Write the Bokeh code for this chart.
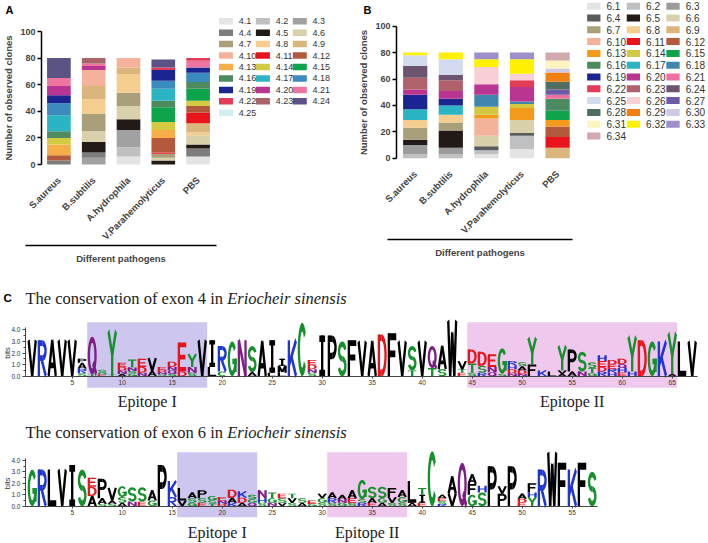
import math
import numpy as np
from bokeh.plotting import figure
from bokeh.models import ColumnDataSource, Range1d, LinearAxis, FixedTicker, NumeralTickFormatter
from bokeh.layouts import column, row
from bokeh.embed import file_html
from bokeh.resources import INLINE
from bokeh.core.properties import value

# ------------------------------------------------------------------ data
PATHOGENS = ["S.aureus", "B.subtilis", "A.hydrophila", "V.Parahemolyticus", "PBS"]
X_TITLE = "Different pathogens"
Y_TITLE = "Number of observed clones"
Y_TICKS = [0, 20, 40, 60, 80, 100]

EXON4_TYPES = ["4.1", "4.2", "4.3", "4.4", "4.5", "4.6", "4.7", "4.8", "4.9", "4.10",
               "4.11", "4.12", "4.13", "4.14", "4.15", "4.16", "4.17", "4.18", "4.19",
               "4.20", "4.21", "4.22", "4.23", "4.24", "4.25"]
EXON4_COLORS = ["#e4e4e4", "#bfc0c2", "#a1a1a1", "#7d7d7d", "#221a17", "#d9d1ab", "#a99f7b",
                "#f5cd8f", "#dab57c", "#f5b29b", "#e8131b", "#b35a3d", "#f7ae48", "#d3cc42",
                "#0ea44b", "#4e8a5f", "#2bb4c3", "#3b8bbf", "#1b2591", "#ba3491", "#ee75a0",
                "#e23c56", "#a8636b", "#5b5286", "#d4edf0"]
# clone counts per type (4.1 ... 4.25)
SAUREUS_4 = [0, 0, 0, 3, 0, 0, 0, 0, 0, 0, 0, 4, 8, 5, 0, 5, 12, 9, 6, 7, 6, 0, 0, 15, 0]
BSUBTILIS_4 = [0, 0, 5, 4, 8, 8, 13, 11, 10, 12, 0, 0, 0, 0, 0, 0, 0, 0, 0, 3, 2, 0, 4, 0, 0]
AHYDROPHILA_4 = [6, 7, 13, 0, 8, 10, 10, 14, 5, 7, 0, 0, 0, 0, 0, 0, 0, 0, 0, 0, 0, 0, 0, 0, 0]
VPARA_4 = [0, 0, 0, 0, 3, 2, 3, 0, 0, 0, 1, 11, 6, 6, 11, 5, 9, 6, 8, 0, 0, 2, 0, 6, 0]
PBS_4 = [6, 0, 0, 6, 3, 7, 0, 2, 7, 0, 8, 5, 0, 4, 9, 5, 0, 7, 4, 0, 5, 2, 0, 0, 0]

EXON6_TYPES = ["6.1", "6.2", "6.3", "6.4", "6.5", "6.6", "6.7", "6.8", "6.9", "6.10",
               "6.11", "6.12", "6.13", "6.14", "6.15", "6.16", "6.17", "6.18", "6.19",
               "6.20", "6.21", "6.22", "6.23", "6.24", "6.25", "6.26", "6.27", "6.28",
               "6.29", "6.30", "6.31", "6.32", "6.33", "6.34"]
EXON6_COLORS = ["#e4e4e4", "#bfc0c2", "#9b9b9b", "#5b5b5b", "#221a17", "#d9d1ab", "#a99f7b",
                "#f5cd8f", "#dab57c", "#f5b29b", "#e8131b", "#b35a3d", "#f39a1b", "#d4c742",
                "#0ea44b", "#4c8a5f", "#2bb4c3", "#3f87ad", "#1b2591", "#ba3491", "#ee70a0",
                "#e23c56", "#b0616b", "#6d5570", "#d3dcee", "#f9cfd6", "#6b5ba9", "#4f6e5f",
                "#f08012", "#cfc8e6", "#fdf5bf", "#fff100", "#9c8fca", "#d0a9ad"]
SAUREUS_6 = [0, 3, 7, 0, 4, 0, 9, 6, 0, 0, 0, 0, 0, 0, 0, 0, 8, 0, 11, 4,
             0, 0, 9, 9, 8, 0, 0, 0, 0, 0, 0, 2, 0, 0]
BSUBTILIS_6 = [0, 3, 5, 0, 13, 0, 6, 6, 0, 0, 0, 0, 0, 0, 0, 0, 7, 0, 5, 6,
               0, 0, 8, 4, 12, 0, 0, 0, 0, 0, 0, 5, 0, 0]
AHYDROPHILA_6 = [3, 3, 0, 3, 0, 8, 0, 0, 0, 13, 0, 0, 3, 6, 0, 0, 0, 9, 0, 8,
                 0, 0, 0, 0, 0, 13, 0, 0, 0, 0, 0, 6, 5, 0]
VPARA_6 = [7, 10, 0, 2, 0, 10, 0, 0, 0, 0, 0, 0, 9, 3, 0, 0, 0, 2, 0, 11,
           0, 5, 0, 0, 0, 5, 0, 0, 0, 0, 0, 11, 5, 0]
PBS_6 = [0, 0, 0, 0, 0, 0, 0, 0, 8, 0, 8, 8, 5, 0, 7, 9, 0, 0, 0, 0,
         3, 0, 0, 0, 0, 0, 4, 6, 7, 3, 6, 0, 0, 6]

# sequence logos: letters per position (bottom -> top) and their heights in bits
EXON4_LETTERS = ["V", "R", "A", "V", "V", "SRAP", "TQ", "EGS", "TY", "ANDE",
                 "GSNT", "NDE", "AV", "SNDE", "SQND", "DE", "SNY", "V", "LI", "CR",
                 "G", "N", "AS", "A", "LI", "LMI", "K", "C", "SNDE", "I",
                 "P", "S", "F", "V", "A", "D", "F", "V", "TS", "V",
                 "TQ", "SA", "W", "ETV", "STD", "RSD", "QNE", "SG", "NDHR", "NDAS",
                 "FY", "K", "L", "AVY", "AP", "NS", "GTS", "RDEH", "HRED", "EHQD",
                 "HY", "D", "G", "K", "AY", "L", "V"]
EXON4_BITS = [[3.1], [3.1], [3.1], [3.1], [3.1], [0.25, 0.4, 0.5, 0.35], [0.15, 3.25],
              [0.15, 0.15, 0.25], [0.2, 3.7], [0.2, 0.3, 0.3, 0.35],
              [0.2, 0.25, 0.3, 0.7], [0.3, 0.5, 0.7], [0.45, 1.1], [0.15, 0.2, 0.2, 0.25],
              [0.2, 0.3, 0.3, 0.45], [0.4, 2.5], [0.3, 0.5, 1.1], [3.1], [0.8, 2.3], [0.4, 2.2],
              [3.0], [3.1], [0.35, 2.25], [3.0], [0.3, 2.8], [0.3, 0.6, 0.6], [3.1], [4.6],
              [0.3, 0.3, 0.4, 0.4], [3.5],
              [3.5], [3.0], [3.1], [3.0], [3.0], [3.6], [3.7], [3.0], [0.5, 2.1], [3.0],
              [0.7, 1.9], [0.6, 2.0], [4.8], [0.3, 0.3, 0.7], [0.3, 0.8, 1.2], [0.3, 0.6, 1.2],
              [0.35, 0.45, 1.1], [0.2, 2.2], [0.25, 0.35, 0.35, 0.35], [0.2, 0.3, 0.35, 0.35],
              [1.0, 2.3], [0.5], [0.4], [0.2, 0.3, 2.1], [0.4, 1.9], [0.4, 1.7], [0.3, 0.4, 0.5],
              [0.4, 0.4, 0.5, 0.5], [0.3, 0.35, 0.35, 0.4], [0.35, 0.35, 0.35, 0.45],
              [0.4, 3.0], [3.1], [3.0], [3.0], [0.2, 3.5], [3.0], [3.0]]
EXON4_TICKS = [5, 10, 15, 20, 25, 30, 35, 40, 45, 50, 55, 60, 65]
EXON4_EPITOPES = [(7, 18), (45, 65)]

EXON6_LETTERS = ["G", "R", "L", "V", "I", "S", "ADE", "SAP", "SAV", "ASG",
                 "NS", "ES", "GA", "P", "RK", "VL", "GSA", "ESP", "TSG", "DNE",
                 "KAD", "ADK", "QGS", "SHN", "NGT", "VSE", "SVT", "AS", "GE", "SGV",
                 "SRA", "GNA", "SEA", "RSG", "EAS", "AGS", "SVF", "SGA", "AL", "EIT",
                 "C", "RSEA", "VA", "Q", "GFA", "SH", "P", "PV", "P", "EDA",
                 "YHF", "R", "W", "F", "K", "F", "S"]
EXON6_BITS = [[3.2], [3.2], [3.2], [3.2], [3.6], [3.2], [0.9, 0.8, 0.8], [0.2, 0.5, 1.7],
              [0.2, 0.3, 1.1], [0.3, 0.5, 0.95],
              [0.4, 1.25], [0.4, 1.25], [0.5, 0.9], [3.6], [0.8, 1.4], [0.5, 1.1],
              [0.3, 0.4, 0.5], [0.3, 0.4, 0.7], [0.2, 0.3, 0.4], [0.2, 0.3, 0.3],
              [0.3, 0.45, 0.7], [0.3, 0.45, 0.55], [0.3, 0.3, 0.4], [0.3, 0.4, 0.7],
              [0.3, 0.4, 0.5], [0.3, 0.4, 0.4], [0.3, 0.4, 0.4], [0.3, 0.4], [0.2, 0.3],
              [0.3, 0.4, 0.4],
              [0.3, 0.4, 0.5], [0.3, 0.3, 0.4], [0.3, 0.4, 0.7], [0.3, 0.3, 1.7],
              [0.3, 0.4, 1.0], [0.3, 0.4, 1.0], [0.3, 0.5, 0.8], [0.3, 0.5, 0.6], [0.3, 1.9],
              [0.3, 0.7, 0.6],
              [4.8], [0.2, 0.25, 0.25, 0.3], [1.1, 1.5], [3.8], [1.0, 0.95, 0.85], [1.2, 0.6],
              [3.5], [1.1, 0.65], [3.5], [0.3, 0.35, 0.45],
              [0.8, 0.4, 0.8], [3.2], [4.7], [3.8], [3.2], [3.8], [3.0]]
EXON6_TICKS = [5, 10, 15, 20, 25, 30, 35, 40, 45, 50, 55]
EXON6_EPITOPES = [(16, 23), (31, 38)]

EPITOPE_NAMES = ["Epitope I", "Epitope II"]
EPITOPE_COLORS = ["#cdc6ee", "#efc8ed"]
TITLE_MAIN = ["The conservation of exon 4 in ", "The conservation of exon 6 in "]
TITLE_ITALIC = "Eriocheir sinensis"

# ------------------------------------------------------------------ styles
SANS = "Liberation Sans"
SERIF = "Liberation Serif"
TOP_H = 275
GREEN, BLUE, RED, PURPLE, BLACK = "#16902b", "#1f35d4", "#e6141d", "#7e1d86", "#000000"
LETTER_COLOR = {}
for ch in "GSTYC":
    LETTER_COLOR[ch] = GREEN
for ch in "KRH":
    LETTER_COLOR[ch] = BLUE
for ch in "DE":
    LETTER_COLOR[ch] = RED
for ch in "QN":
    LETTER_COLOR[ch] = PURPLE

# ------------------------------------------------------------------ letter shapes (unit box)
SW, SH = 0.26, 0.16
HA, HB = SW / 2, SH / 2


def _seg(x0, y0, x1, y1):
    dx, dy = x1 - x0, y1 - y0
    ln = math.hypot(dx, dy)
    ox, oy = -dy / ln * HA, dx / ln * HB
    return [(x0 + ox, y0 + oy), (x1 + ox, y1 + oy), (x1 - ox, y1 - oy), (x0 - ox, y0 - oy)]


def _arc(cx, cy, rx, ry, a0, a1, n=28):
    t = np.radians(np.linspace(a0, a1, n))
    outer = [(cx + rx * math.cos(v), cy + ry * math.sin(v)) for v in t]
    inner = [(cx + (rx - SW) * math.cos(v), cy + (ry - SH) * math.sin(v)) for v in t[::-1]]
    return outer + inner


def _shape(ch):
    a, b, S = HA, HB, _seg
    ry = 0.25 + SH / 4
    P = [S(a, 0, a, 1), S(a, 1 - b, 0.5, 1 - b), S(a, 0.42 + b, 0.5, 0.42 + b),
         _arc(0.5, 0.71, 0.5, 0.29, -90, 90)]
    O = [_arc(0.5, 0.5, 0.5, 0.5, 0, 360)]
    shapes = {
        "A": [S(0.1, 0, 0.5, 1), S(0.5, 1, 0.9, 0), S(0.25, 0.3, 0.75, 0.3)],
        "V": [S(0.1, 1, 0.5, 0), S(0.5, 0, 0.9, 1)],
        "W": [S(0.06, 1, 0.27, 0), S(0.27, 0, 0.5, 0.78), S(0.5, 0.78, 0.73, 0), S(0.73, 0, 0.94, 1)],
        "M": [S(a, 0, a, 1), S(a, 1, 0.5, 0.1), S(0.5, 0.1, 1 - a, 1), S(1 - a, 1, 1 - a, 0)],
        "N": [S(a, 0, a, 1), S(a, 1, 1 - a, 0), S(1 - a, 0, 1 - a, 1)],
        "H": [S(a, 0, a, 1), S(1 - a, 0, 1 - a, 1), S(a, 0.5, 1 - a, 0.5)],
        "I": [S(0.5, 0, 0.5, 1), S(0.18, b, 0.82, b), S(0.18, 1 - b, 0.82, 1 - b)],
        "L": [S(a, 0, a, 1), S(a, b, 0.95, b)],
        "T": [S(0.5, 0, 0.5, 1 - b), S(0.03, 1 - b, 0.97, 1 - b)],
        "E": [S(a, 0, a, 1), S(a, 1 - b, 0.95, 1 - b), S(a, 0.5, 0.85, 0.5), S(a, b, 0.95, b)],
        "F": [S(a, 0, a, 1), S(a, 1 - b, 0.95, 1 - b), S(a, 0.52, 0.85, 0.52)],
        "K": [S(a, 0, a, 1), S(a, 0.3, 0.93, 1), S(0.4, 0.56, 0.93, 0)],
        "Y": [S(0.08, 1, 0.5, 0.45), S(0.92, 1, 0.5, 0.45), S(0.5, 0.5, 0.5, 0)],
        "X": [S(0.1, 1, 0.9, 0), S(0.1, 0, 0.9, 1)],
        "C": [_arc(0.5, 0.5, 0.5, 0.5, 38, 322)],
        "G": [_arc(0.5, 0.5, 0.5, 0.5, 38, 360), S(0.52, 0.42, 1.0, 0.42), S(1 - a, 0.5, 1 - a, 0.12)],
        "O": O,
        "Q": O + [S(0.58, 0.3, 0.97, 0.0)],
        "D": [S(a, 0, a, 1), S(a, 1 - b, 0.45, 1 - b), S(a, b, 0.45, b),
              _arc(0.45, 0.5, 0.55, 0.5, -90, 90)],
        "P": P,
        "R": P + [S(0.45, 0.45, 0.9, 0)],
        "S": [_arc(0.5, 1 - ry, 0.48, ry, 15, 270), _arc(0.5, ry, 0.48, ry, 90, -165)],
    }
    return shapes.get(ch, O)


# ------------------------------------------------------------------ helpers
TIMES_W = {"T": 611, "h": 500, "e": 444, " ": 250, "c": 444, "o": 500, "n": 500, "s": 389,
           "r": 333, "v": 500, "a": 444, "t": 278, "i": 278, "f": 333, "x": 500, "4": 500, "6": 500}


def new_fig(width, height, xr, yr):
    p = figure(width=width, height=height, x_range=Range1d(*xr), y_range=Range1d(*yr),
               x_axis_type=None, y_axis_type=None, output_backend="svg",
               toolbar_location=None, min_border=0)
    p.outline_line_color = None
    p.background_fill_color = "white"
    p.border_fill_color = "white"
    return p


def bar_panel(series, types, colors, left_page, width, xc0, dx, y0, dy,
              axis_px, line_l, line_r, line_py, letter, letter_px, legend):
    def fx(px):
        return (px - xc0) / dx

    def fy(py):
        return (y0 - py) / dy

    p = new_fig(width, TOP_H, (fx(left_page), fx(left_page + width)), (fy(TOP_H), fy(0)))
    xs = list(range(len(PATHOGENS)))
    data = {"x": xs}
    for j, t in enumerate(types):
        data[t] = [s[j] for s in series]
    p.vbar_stack(types, x="x", width=0.68, fill_color=list(colors), line_color=None,
                 source=ColumnDataSource(data))

    ya = LinearAxis(fixed_location=fx(axis_px), bounds=(0, 100), ticker=FixedTicker(ticks=Y_TICKS),
                    axis_label=Y_TITLE)
    ya.axis_label_text_font = SANS
    ya.axis_label_text_font_style = "bold"
    ya.axis_label_text_font_size = "9.5px"
    ya.axis_label_standoff = 3
    ya.major_label_text_font = SANS
    ya.major_label_text_font_style = "bold"
    ya.major_label_text_font_size = "9px"
    ya.major_label_standoff = 2
    ya.axis_line_width = 1.5
    ya.major_tick_line_width = 1.5
    ya.major_tick_out = 4
    ya.major_tick_in = 0
    ya.minor_tick_line_color = None
    p.add_layout(ya, "left")

    xa = LinearAxis(fixed_location=0, ticker=FixedTicker(ticks=xs))
    xa.major_label_overrides = {i: name for i, name in zip(xs, PATHOGENS)}
    xa.major_label_orientation = math.pi / 4
    xa.major_label_text_font = SANS
    xa.major_label_text_font_style = "bold"
    xa.major_label_text_font_size = "9.5px"
    xa.major_label_standoff = 8
    xa.axis_line_color = None
    xa.major_tick_line_color = None
    xa.minor_tick_line_color = None
    p.add_layout(xa, "below")

    la = LinearAxis(fixed_location=fy(line_py), bounds=(fx(line_l), fx(line_r)),
                    ticker=FixedTicker(ticks=[]), axis_label=X_TITLE)
    la.axis_line_width = 1.5
    la.major_tick_line_color = None
    la.minor_tick_line_color = None
    la.major_label_text_font_size = "0px"
    la.axis_label_text_font = SANS
    la.axis_label_text_font_style = "bold"
    la.axis_label_text_font_size = "9.5px"
    la.axis_label_standoff = 7
    p.add_layout(la, "below")

    p.text(x=[fx(letter_px)], y=[fy(9)], text=[letter], text_font=value(SANS),
           text_font_style="bold", text_font_size="11px", text_baseline="middle",
           text_align="left", text_color="black")

    sx0, tx0, cdx, ly0, ldy, sw, sh, fsize = legend
    cols = [i % 3 for i in range(len(types))]
    rows = [i // 3 for i in range(len(types))]
    src = ColumnDataSource(dict(
        sx=[fx(sx0 + c * cdx) for c in cols],
        tx=[fx(tx0 + c * cdx) for c in cols],
        y=[fy(ly0 + r * ldy) for r in rows],
        color=list(colors), label=list(types)))
    p.rect(x="sx", y="y", width=sw, height=sh, width_units="screen", height_units="screen",
           fill_color="color", line_color=None, source=src)
    p.text(x="tx", y="y", text="label", source=src, text_font=value(SANS),
           text_font_size=fsize, text_baseline="middle", text_align="left", text_color="#333333")
    return p


def logo_panel(letters, bits, ticks, epitopes, n_pos, top_page, height, zero_py, px_bit,
               box_top_py, box_bot_py, title_main, title_mid, ep_mid, panel_letter=None):
    def fx(px):
        return (px - 21.7) / 10.0

    def fy(py):
        return (zero_py - py) / px_bit

    p = new_fig(708, height, (fx(0), fx(708)), (fy(top_page + height), fy(top_page)))
    p.quad(left=[s - 0.5 for s, e in epitopes], right=[e + 0.5 for s, e in epitopes],
           bottom=fy(box_bot_py), top=fy(box_top_py),
           fill_color=EPITOPE_COLORS[:len(epitopes)], line_color=None)

    xs, ys, cs = [], [], []
    for i, (word, hs) in enumerate(zip(letters, bits)):
        pos = i + 1
        base = 0.0
        for ch, h in zip(word, hs):
            for poly in _shape(ch):
                xs.append([pos - 0.45 + u * 0.9 for u, v in poly])
                ys.append([base + v * h for u, v in poly])
                cs.append(LETTER_COLOR.get(ch, BLACK))
            base += h
    p.patches("xs", "ys", fill_color="color", line_color=None,
              source=ColumnDataSource(dict(xs=xs, ys=ys, color=cs)))

    ya = LinearAxis(fixed_location=fx(25), bounds=(0, 4.2),
                    ticker=FixedTicker(ticks=[0, 1, 2, 3, 4], minor_ticks=[0.5, 1.5, 2.5, 3.5]),
                    formatter=NumeralTickFormatter(format="0.0"))
    ya.major_label_text_font = SANS
    ya.major_label_text_font_size = "6.5px"
    ya.major_label_text_color = "#333333"
    ya.major_label_standoff = 2
    ya.major_tick_out = 3
    ya.major_tick_in = 0
    ya.minor_tick_out = 2
    ya.minor_tick_in = 0
    ya.axis_line_color = "#444444"
    ya.major_tick_line_color = "#444444"
    ya.minor_tick_line_color = "#444444"
    p.add_layout(ya, "left")

    xa = LinearAxis(fixed_location=0, bounds=(fx(25), n_pos + 0.5), ticker=FixedTicker(ticks=ticks))
    xa.major_label_text_font = SANS
    xa.major_label_text_font_size = "6.5px"
    xa.major_label_text_color = "#333333"
    xa.major_label_standoff = 2
    xa.major_tick_out = 2
    xa.major_tick_in = 0
    xa.minor_tick_line_color = None
    xa.axis_line_color = "#444444"
    xa.major_tick_line_color = "#444444"
    p.add_layout(xa, "below")

    p.text(x=[fx(7)], y=[2.0], text=["bits"], angle=math.pi / 2, text_align="center",
           text_baseline="middle", text_font=value(SANS), text_font_size="7.5px",
           text_color="#333333")
    size = 16.5
    w = sum(TIMES_W.get(c, 500) for c in title_main) / 1000 * size
    p.text(x=[fx(25)], y=[fy(title_mid)], text=[title_main], text_font=value(SERIF),
           text_font_size=f"{size}px", text_color="#222222", text_baseline="middle",
           text_align="left")
    p.text(x=[fx(25 + w)], y=[fy(title_mid)], text=[TITLE_ITALIC], text_font=value(SERIF),
           text_font_style="italic", text_font_size=f"{size}px", text_color="#222222",
           text_baseline="middle", text_align="left")
    if panel_letter:
        p.text(x=[fx(3)], y=[fy(title_mid)], text=[panel_letter], text_font=value(SANS),
               text_font_style="bold", text_font_size="11.5px", text_baseline="middle",
               text_align="left", text_color="black")
    p.text(x=[(s + e) / 2 for s, e in epitopes], y=[fy(ep_mid)] * len(epitopes),
           text=EPITOPE_NAMES[:len(epitopes)], text_font=value(SERIF), text_font_size="16px",
           text_color="#222222", text_align="center", text_baseline="middle")
    return p


# ------------------------------------------------------------------ build
figA = bar_panel([SAUREUS_4, BSUBTILIS_4, AHYDROPHILA_4, VPARA_4, PBS_4], EXON4_TYPES,
                 EXON4_COLORS, 0, 353, 58.4, 34.8, 164, 1.33, 41, 25, 216, 245, "A", 5,
                 (225.5, 238.3, 36.9, 20.7, 11.45, 14, 6.5, "9px"))
figB = bar_panel([SAUREUS_6, BSUBTILIS_6, AHYDROPHILA_6, VPARA_6, PBS_6], EXON6_TYPES,
                 EXON6_COLORS, 353, 355, 414.7, 35.6, 157.7, 1.32, 396, 386.7, 571.7, 239, "B", 363,
                 (593.3, 606, 39.6, 5.7, 11.8, 13.3, 7, "10px"))

figC1 = logo_panel(EXON4_LETTERS, EXON4_BITS, EXON4_TICKS, EXON4_EPITOPES, 67, TOP_H, 137,
                   375.7, 11.6, 321.7, 387.3, TITLE_MAIN[0], 297.5, 401, panel_letter="C")
figC2 = logo_panel(EXON6_LETTERS, EXON6_BITS, EXON6_TICKS, EXON6_EPITOPES, 57, 412, 131,
                   505.7, 11.43, 451.7, 516.7, TITLE_MAIN[1], 432, 532)

layout = column(row(figA, figB), figC1, figC2)
open("out.html", "w").write(file_html(layout, INLINE))
